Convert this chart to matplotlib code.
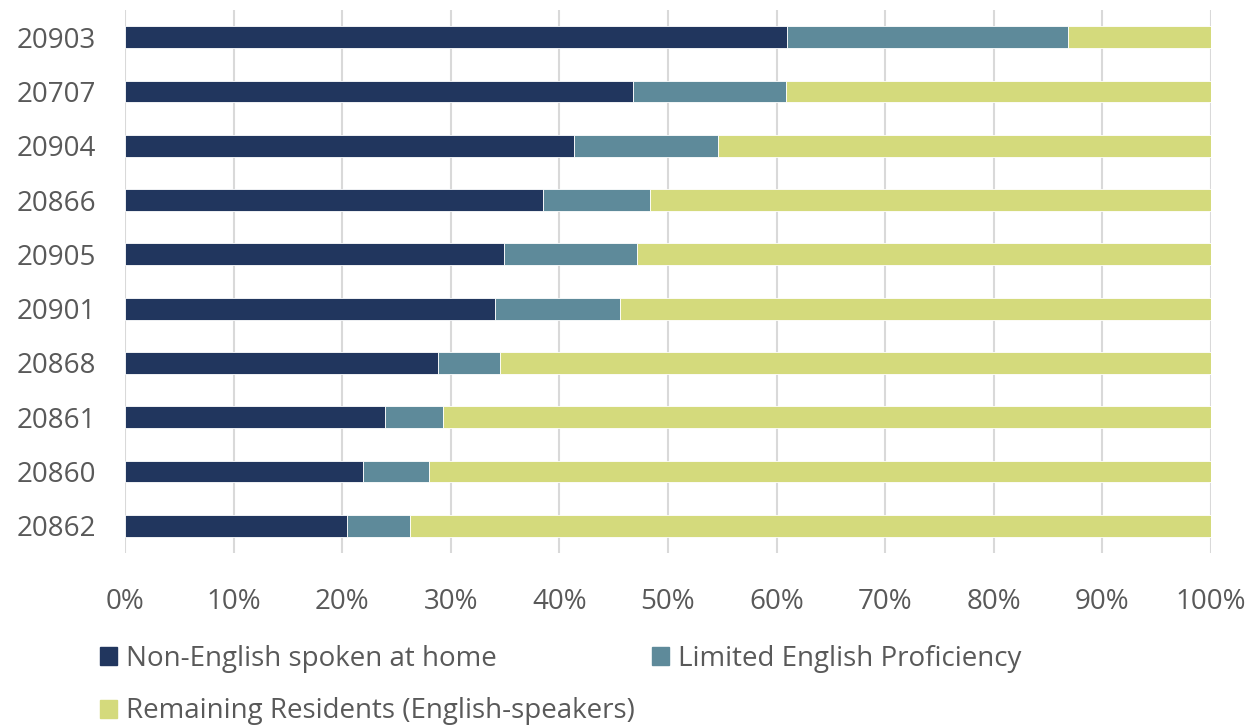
import matplotlib.pyplot as plt
from matplotlib.patches import Patch
from matplotlib.ticker import PercentFormatter

plt.rcParams["font.family"] = ["Open Sans", "DejaVu Sans"]

# data (percent of residents)
zips = ["20903", "20707", "20904", "20866", "20905", "20901",
        "20868", "20861", "20860", "20862"]
non_english = [61.0, 46.8, 41.3, 38.5, 34.9, 34.1, 28.8, 23.9, 21.9, 20.4]
limited = [25.8, 14.1, 13.3, 9.8, 12.2, 11.5, 5.7, 5.4, 6.1, 5.8]
remaining = [100 - a - b for a, b in zip(non_english, limited)]

labels = ["Non-English spoken at home", "Limited English Proficiency",
          "Remaining Residents (English-speakers)"]
colors = ["#21365E", "#5E8A9A", "#D4DA7C"]
text_col = "#595959"

fig = plt.figure(figsize=(12.52, 7.25), dpi=100)
ax = fig.add_axes([125 / 1252, 1 - 553 / 725, 1086 / 1252, 543 / 725])

ypos = list(range(len(zips)))[::-1]
left = [0] * len(zips)
for vals, col in zip([non_english, limited, remaining], colors):
    ax.barh(ypos, vals, left=left, height=0.4, color=col,
            edgecolor="white", linewidth=0.6, zorder=3)
    left = [l + v for l, v in zip(left, vals)]

ax.set_xlim(0, 100)
ax.set_ylim(-0.5, 9.5)
ax.set_yticks(ypos)
ax.set_yticklabels(zips)
ax.set_xticks(range(0, 101, 10))
ax.xaxis.set_major_formatter(PercentFormatter(decimals=0))
ax.tick_params(axis="both", length=0, labelsize=20, labelcolor=text_col)
ax.tick_params(axis="x", pad=25)
ax.tick_params(axis="y", pad=21)
ax.grid(axis="x", color="#D9D9D9", linewidth=1.5, zorder=0)
for s in ax.spines.values():
    s.set_visible(False)

handles = [Patch(color=c) for c in colors]
# reorder so the legend fills row by row
order = [0, 2, 1]
fig.legend([handles[i] for i in order], [labels[i] for i in order],
           loc="upper left", bbox_to_anchor=(100 / 1252, 1 - 645 / 725),
           ncol=2, frameon=False, fontsize=20, labelcolor=text_col,
           handlelength=0.62, handleheight=0.62, handletextpad=0.33,
           columnspacing=0.6, labelspacing=0.88, borderpad=0,
           borderaxespad=0)

fig.savefig("out.png", dpi=100)
